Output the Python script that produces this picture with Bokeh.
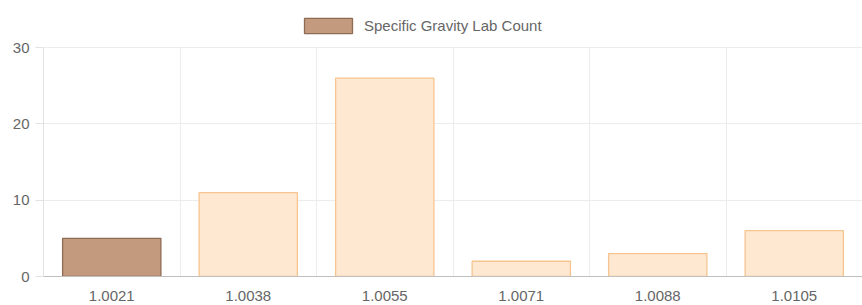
from bokeh.plotting import figure
from bokeh.models import ColumnDataSource, FixedTicker, Range1d, Legend, LegendItem
from bokeh.embed import file_html
from bokeh.resources import INLINE

categories = ["1.0021", "1.0038", "1.0055", "1.0071", "1.0088", "1.0105"]
counts = [5, 11, 26, 2, 3, 6]
fill_colors = ["#c39a7e", "#ffe8d2", "#ffe8d2", "#ffe8d2", "#ffe8d2", "#ffe8d2"]
line_colors = ["#8f6b55", "#f6c48f", "#f6c48f", "#f6c48f", "#f6c48f", "#f6c48f"]
series_name = "Specific Gravity Lab Count"
y_ticks = [0, 10, 20, 30]
y_max = 30

positions = list(range(1, len(categories) + 1))
src = ColumnDataSource(dict(x=positions, top=counts, fill=fill_colors, line=line_colors))

W, H = 862, 305
frame_top, data_top, frame_bottom, frame_left = 8, 47, 276, 43
y_top = y_max * (frame_bottom - frame_top) / (frame_bottom - data_top)

p = figure(width=W, height=H, output_backend="svg", toolbar_location=None,
           x_range=Range1d(0.5, len(categories) + 0.5), y_range=Range1d(0, y_top),
           min_border_left=frame_left, min_border_right=0,
           min_border_top=frame_top, min_border_bottom=H - frame_bottom)
p.outline_line_color = None
p.background_fill_color = "white"
p.border_fill_color = "white"

r = p.vbar(x="x", top="top", bottom=0, width=0.72, source=src,
           fill_color="fill", line_color="line", line_width=1.3)

font = "Liberation Sans"
p.xaxis.ticker = FixedTicker(ticks=positions)
p.xaxis.major_label_overrides = {pos: c for pos, c in zip(positions, categories)}
p.xaxis.axis_line_color = "#bfbfbf"
p.xaxis.major_tick_line_color = None
p.xaxis.minor_tick_line_color = None
p.xaxis.major_label_text_font = font
p.xaxis.major_label_text_font_size = "15px"
p.xaxis.major_label_text_color = "#666666"
p.xaxis.major_label_standoff = 8

p.yaxis.ticker = FixedTicker(ticks=y_ticks)
p.yaxis.bounds = (0, y_max)
p.yaxis.axis_line_color = "#e2e2e2"
p.yaxis.major_tick_line_color = "#e2e2e2"
p.yaxis.major_tick_in = 0
p.yaxis.major_tick_out = 8
p.yaxis.minor_tick_line_color = None
p.yaxis.major_label_text_font = font
p.yaxis.major_label_text_font_size = "15px"
p.yaxis.major_label_text_color = "#666666"
p.yaxis.major_label_standoff = 6

p.xgrid.ticker = FixedTicker(ticks=[i + 0.5 for i in range(0, len(categories) + 1)])
p.xgrid.cross_bounds = (0, y_max)
p.xgrid.grid_line_color = "#ececec"
p.ygrid.ticker = FixedTicker(ticks=y_ticks)
p.ygrid.grid_line_color = "#ececec"

legend = Legend(items=[LegendItem(label=series_name, renderers=[r], index=0)],
                location=(298 - frame_left, frame_bottom - 35), orientation="horizontal",
                glyph_width=60, glyph_height=19, padding=0, margin=0, spacing=0,
                label_standoff=6, border_line_color=None, background_fill_alpha=0,
                label_text_font=font, label_text_font_size="15px",
                label_text_color="#666666")
p.add_layout(legend, "center")

open("out.html", "w").write(file_html(p, INLINE))
